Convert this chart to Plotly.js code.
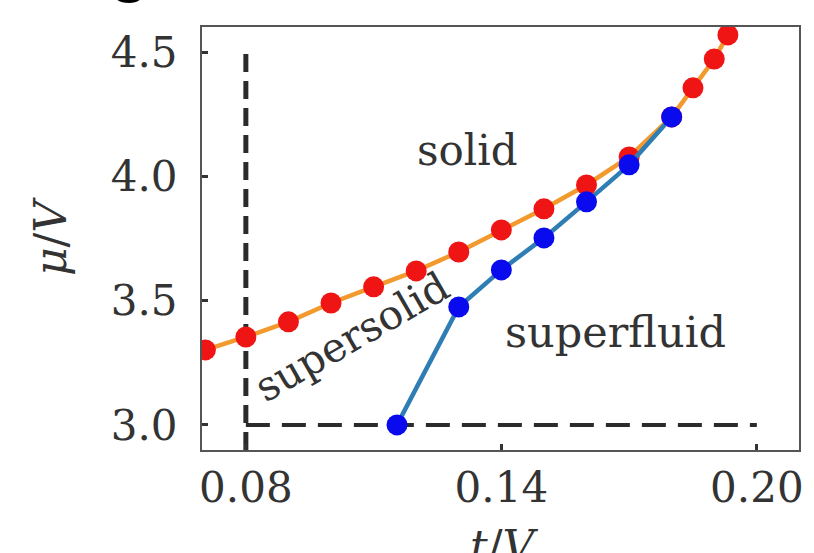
<!DOCTYPE html>
<html>
<head>
<meta charset="utf-8">
<script src="https://cdn.plot.ly/plotly-3.0.1.min.js"></script>
<style>html,body{margin:0;padding:0;background:#fff;}#chart{width:814px;height:553px;}</style>
</head>
<body>
<div id="chart"></div>
<script>
// solid / supersolid boundary (red points, orange line)
const solidT  = [0.0705, 0.08, 0.09, 0.10, 0.11, 0.12, 0.13, 0.14, 0.15, 0.16, 0.17, 0.18, 0.185, 0.19, 0.1932];
const solidMu = [3.302, 3.354, 3.415, 3.491, 3.556, 3.62, 3.696, 3.785, 3.87, 3.966, 4.079, 4.24, 4.357, 4.473, 4.57];
// supersolid / superfluid boundary (blue points)
const sfT  = [0.1155, 0.13, 0.14, 0.15, 0.16, 0.17, 0.18];
const sfMu = [3.0, 3.475, 3.624, 3.753, 3.898, 4.047, 4.24];
// dashed guide lines
const vGuideT = [0.08, 0.08];
const vGuideMu = [2.899, 4.5];
const hGuideT = [0.08, 0.20];
const hGuideMu = [3.0, 3.0];
// ticks
const xTicks = [0.08, 0.14, 0.20];
const xTickText = ['0.08', '0.14', '0.20'];
const yTicks = [3.0, 3.5, 4.0, 4.5];
const yTickText = ['3.0', '3.5', '4.0', '4.5'];

const serif = 'DejaVu Serif';

const traces = [
  {x: vGuideT, y: vGuideMu, mode: 'lines', line: {color: '#2b2b2b', width: 5, dash: '18px,9px'}, hoverinfo: 'skip', showlegend: false},
  {x: hGuideT, y: hGuideMu, mode: 'lines', line: {color: '#2b2b2b', width: 4, dash: '24px,12px'}, hoverinfo: 'skip', showlegend: false},
  {x: solidT, y: solidMu, mode: 'lines+markers', line: {color: '#f39a2e', width: 4.5},
   marker: {color: '#f01515', size: 21, line: {width: 0}}, showlegend: false},
  {x: sfT, y: sfMu, mode: 'lines+markers', line: {color: '#2f7db5', width: 4.5},
   marker: {color: '#0a0aee', size: 21, line: {width: 0}}, showlegend: false}
];

const layout = {
  width: 814, height: 553,
  margin: {l: 202, r: 15, t: 27, b: 103},
  paper_bgcolor: '#fff', plot_bgcolor: '#fff',
  showlegend: false,
  font: {family: serif, color: '#333'},
  xaxis: {
    range: [0.0697, 0.2099], tickvals: xTicks, ticktext: xTickText,
    ticks: 'inside', ticklen: 6, tickwidth: 3, tickcolor: '#333',
    showgrid: false, zeroline: false,
    showline: true, linecolor: '#555', linewidth: 2, mirror: true,
    tickfont: {family: serif, size: 42, color: '#333'}
  },
  yaxis: {
    range: [2.899, 4.602], tickvals: yTicks, ticktext: yTickText,
    ticks: 'inside', ticklen: 6, tickwidth: 3, tickcolor: '#333',
    showgrid: false, zeroline: false,
    showline: true, linecolor: '#555', linewidth: 2, mirror: true,
    tickfont: {family: serif, size: 42, color: '#333'},
    ticklabelstandoff: 14,
    title: {text: '<i>μ</i>/<i>V</i>', font: {family: serif, size: 44, color: '#333'}, standoff: 30}
  },
  annotations: [
    {x: 0.507, y: -0.163, xref: 'paper', yref: 'paper', xanchor: 'center', yanchor: 'top',
     text: '<i>t</i>/<i>V</i>', showarrow: false, font: {family: serif, size: 44, color: '#333'}},
    {x: 0.1321, y: 4.105, xref: 'x', yref: 'y', text: 'solid', showarrow: false,
     font: {family: serif, size: 42, color: '#333'}},
    {x: 0.1049, y: 3.355, xref: 'x', yref: 'y', text: 'supersolid', showarrow: false, textangle: -30,
     font: {family: serif, size: 41, color: '#333'}},
    {x: 0.1669, y: 3.375, xref: 'x', yref: 'y', text: 'superfluid', showarrow: false,
     font: {family: serif, size: 43, color: '#333'}},
    {x: -0.124, y: 1.018, xref: 'paper', yref: 'paper', xanchor: 'center', yanchor: 'bottom',
     text: '<b>c</b>', showarrow: false, font: {family: serif, size: 64, color: '#000'}}
  ]
};

Plotly.newPlot('chart', traces, layout, {displayModeBar: false, staticPlot: true});
</script>
</body>
</html>
